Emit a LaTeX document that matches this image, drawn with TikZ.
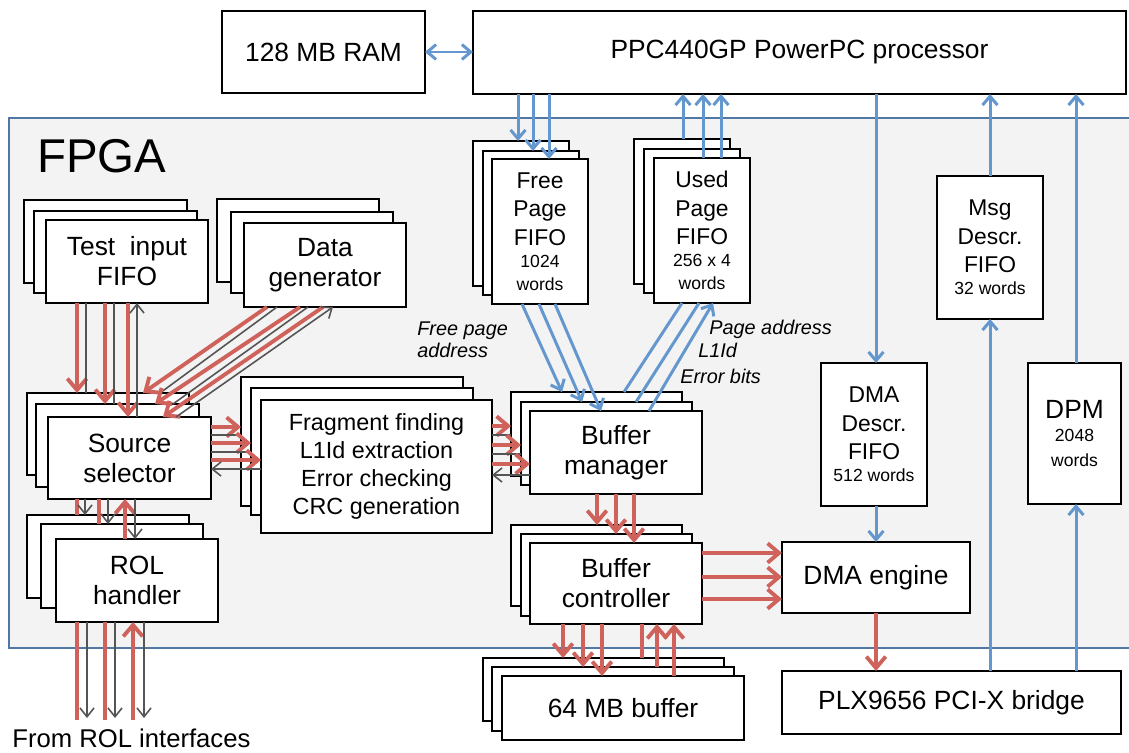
\documentclass[tikz,border=0pt]{standalone}
\usepackage{fontspec}
\setmainfont{Liberation Sans}
\usetikzlibrary{arrows.meta,calc}
\definecolor{redA}{RGB}{208,98,92}
\definecolor{blueA}{RGB}{100,151,206}
\definecolor{grayA}{RGB}{85,85,85}
\definecolor{fpgaFill}{RGB}{243,243,243}
\definecolor{fpgaLine}{RGB}{80,120,165}
\newcommand\fa{\fontsize{15}{17}\selectfont}
\newcommand\fb{\fontsize{13}{16.2}\selectfont}
\newcommand\fc{\fontsize{13.3}{16}\selectfont}
\newcommand\smalltxt[1]{{\fontsize{10}{12.7}\selectfont #1}}
\newcommand\bxn[7][\fa]{\node[bx,font=#1,minimum width={(#5-#3)*0.02cm},minimum height={(#6-#4)*0.02cm}] (#2) at ({(#3+#5)/2},{(#4+#6)/2}) {#7};}
\begin{document}
\begin{tikzpicture}[x=0.02cm,y=-0.02cm,
  bx/.style={draw=black,fill=white,line width=0.75pt,inner sep=0pt,outer sep=0pt,align=center},
  redarr/.style={draw=redA,line width=2.2pt,-{Straight Barb[length=6.5pt,width=11pt]}},
  redln/.style={draw=redA,line width=2.2pt},
  bluearr/.style={draw=blueA,line width=1.7pt,-{Straight Barb[length=5pt,width=8.5pt]}},
  bluedbl/.style={draw=blueA,line width=1.7pt,{Straight Barb[length=5pt,width=8.5pt]}-{Straight Barb[length=5pt,width=8.5pt]}},
  blueln/.style={draw=blueA,line width=1.7pt},
  grayarr/.style={draw=grayA,line width=0.9pt,-{Straight Barb[length=5pt,width=8pt]}},
  grayln/.style={draw=grayA,line width=0.9pt},
  lbl/.style={font=\fontsize{11.3}{12.5}\selectfont\itshape,anchor=base west,inner sep=0pt}]
\useasboundingbox (0,0) rectangle (1129,753);
\fill[white] (0,0) rectangle (1129,753);
\fill[fpgaFill,draw=fpgaLine,line width=0.75pt] (9,118) rectangle (1140,648);
\node[font=\fontsize{27}{30}\selectfont,anchor=base west,inner sep=0pt] (fpgalbl) at (37,173) {FPGA};

% ---- boxes ----
\bxn{tib}{24}{200}{187}{283}{}
\bxn{tim}{34}{211}{197}{293}{}
\bxn{tif}{46}{220}{208}{303}{Test~~input\\FIFO}
\bxn{dgb}{217}{199}{379}{282}{}
\bxn{dgm}{231}{212}{393}{293}{}
\bxn{dgf}{244}{223}{406}{307}{Data\\generator}
\bxn{ssb}{27}{393}{189}{475}{}
\bxn{ssm}{36}{404}{199}{487}{}
\bxn{ssf}{48}{417}{211}{499}{Source\\selector}
\bxn{frb}{241}{377}{463}{506}{}
\bxn{frm}{251}{388}{473}{515}{}
\bxn[\fc]{frf}{261}{400}{492}{533}{Fragment finding\\L1Id extraction\\Error checking\\CRC generation}
\bxn{rolb}{27}{515}{189}{598}{}
\bxn{rolm}{41}{524}{203}{608}{}
\bxn{rolf}{56}{539}{218}{622}{ROL\\handler}
\bxn{fpb}{473}{141}{569}{286}{}
\bxn{fpm}{483}{151}{579}{295}{}
\bxn[\fb]{fpf}{492}{159}{588}{304}{Free\\Page\\FIFO\\[-3.5pt]\smalltxt{1024}\\[-3.2pt]\smalltxt{words}}
\bxn{upb}{634}{139}{730}{284}{}
\bxn{upm}{644}{149}{740}{293}{}
\bxn[\fb]{upf}{654}{158}{750}{303}{Used\\Page\\FIFO\\[-3.5pt]\smalltxt{256 x 4}\\[-3.2pt]\smalltxt{words}}
\bxn{bmb}{511}{392}{682}{476}{}
\bxn{bmm}{521}{402}{692}{485}{}
\bxn{bmf}{530}{411}{702}{494}{Buffer\\manager}
\bxn{bcb}{511}{525}{682}{606}{}
\bxn{bcm}{521}{534}{692}{616}{}
\bxn{bcf}{530}{543}{702}{624}{Buffer\\controller}
\bxn{mbb}{483}{658}{724}{721}{}
\bxn{mbm}{492}{667}{734}{731}{}
\bxn{mbf}{502}{676}{744}{740}{64 MB buffer}
\bxn{ram}{222}{11}{425}{93}{128 MB RAM}
\bxn{ppc}{473}{11}{1126}{94}{PPC440GP PowerPC processor}
\bxn[\fb]{msg}{937}{176}{1043}{319}{Msg\\Descr.\\FIFO\\[-3.5pt]\smalltxt{32 words}}
\bxn[\fb]{dd}{821}{363}{927}{506}{DMA\\Descr.\\FIFO\\[-3.5pt]\smalltxt{512 words}}
\bxn{dpm}{1028}{363}{1121}{504}{DPM\\[-4pt]\smalltxt{2048}\\[-3.2pt]\smalltxt{words}}
\bxn{dma}{782}{542}{970}{613}{DMA engine}
\bxn{plx}{782}{671}{1121}{734}{PLX9656 PCI-X bridge}

% ---- labels ----
\node[lbl] (l1) at (417,335) {Free page};
\node[lbl] (l2) at (417,357) {address};
\node[lbl] (l3) at (709,334) {Page address};
\node[lbl] (l4) at (698,357) {L1Id};
\node[lbl] (l5) at (680,383) {Error bits};
\node[font=\fontsize{14.6}{16}\selectfont,anchor=base west,inner sep=0pt] (rolif) at (12,747) {From ROL interfaces};
\coordinate (in1) at (77,720);
\coordinate (in2) at (105,720);
\coordinate (in3) at (133,720);
\coordinate (out1) at (87,718);
\coordinate (out2) at (115,718);
\coordinate (out3) at (144,718);

% ---- blue connectors ----
\draw[bluedbl] (ram.east) -- (ram.east -| ppc.west);
\draw[bluearr] (518,0 |- ppc.south) -- (518,0 |- fpb.north);
\draw[bluearr] (533,0 |- ppc.south) -- (533,0 |- fpm.north);
\draw[bluearr] (549,0 |- ppc.south) -- (549,0 |- fpf.north);
\draw[bluearr] (683,0 |- upb.north) -- (683,0 |- ppc.south);
\draw[bluearr] (703,0 |- upf.north) -- (703,0 |- ppc.south);
\draw[bluearr] (721,0 |- upf.north) -- (721,0 |- ppc.south);
\draw[bluearr] (522,0 |- fpf.south) -- (562,0 |- bmb.north);
\draw[bluearr] (539,0 |- fpf.south) -- (582,0 |- bmm.north);
\draw[bluearr] (555,0 |- fpf.south) -- (601,0 |- bmf.north);
\draw[blueln] (624,0 |- bmb.north) -- (682,0 |- upf.south);
\draw[blueln] (636,0 |- bmm.north) -- (699,0 |- upf.south);
\draw[bluearr] (649,0 |- bmf.north) -- (713,0 |- upf.south);
\draw[bluearr] (876,0 |- ppc.south) -- (876,0 |- dd.north);
\draw[bluearr] (876,0 |- dd.south) -- (876,0 |- dma.north);
\draw[bluearr] (msg.north) -- (msg.north |- ppc.south);
\draw[bluearr] (msg.south |- plx.north) -- (msg.south);
\draw[bluearr] (1076,0 |- dpm.north) -- (1076,0 |- ppc.south);
\draw[bluearr] (1076,0 |- plx.north) -- (1076,0 |- dpm.south);

% ---- test input FIFO <-> source selector ----
\draw[redarr] (77,0 |- tif.south) -- (77,0 |- ssb.north);
\draw[grayln] (86,0 |- tif.south) -- (86,0 |- ssb.north);
\draw[redarr] (105,0 |- tif.south) -- (105,0 |- ssm.north);
\draw[grayln] (114,0 |- tif.south) -- (114,0 |- ssm.north);
\draw[redarr] (128,0 |- tif.south) -- (128,0 |- ssf.north);
\draw[grayarr] (137,0 |- ssf.north) -- (137,0 |- tif.south);

% ---- data generator <-> source selector ----
\draw[redarr] (267,0 |- dgf.south) -- (143,0 |- ssb.north);
\draw[grayln] (277,0 |- dgf.south) -- (160,0 |- ssb.north);
\draw[redarr] (300,0 |- dgf.south) -- (155,0 |- ssm.north);
\draw[grayln] (308,0 |- dgf.south) -- (173,0 |- ssm.north);
\draw[redarr] (323,0 |- dgf.south) -- (163,0 |- ssf.north);
\draw[grayarr] (176,0 |- ssf.north) -- (333,0 |- dgf.south);

% ---- source selector <-> fragment ----
\draw[redarr] (ssf.east |- 0,427) -- (frb.west |- 0,427);
\draw[grayln] (ssf.east |- 0,435) -- (frb.west |- 0,435);
\draw[redarr] (ssf.east |- 0,443) -- (frm.west |- 0,443);
\draw[grayln] (ssf.east |- 0,452) -- (frm.west |- 0,452);
\draw[redarr] (ssf.east |- 0,460) -- (frf.west |- 0,460);
\draw[grayarr] (frf.west |- 0,469) -- (ssf.east |- 0,469);

% ---- fragment <-> buffer manager ----
\draw[redarr] (frf.east |- 0,426) -- (bmb.west |- 0,426);
\draw[grayln] (frf.east |- 0,435) -- (bmb.west |- 0,435);
\draw[redarr] (frf.east |- 0,445) -- (bmm.west |- 0,445);
\draw[grayln] (frf.east |- 0,454) -- (bmm.west |- 0,454);
\draw[redarr] (frf.east |- 0,464) -- (bmf.west |- 0,464);
\draw[grayarr] (bmf.west |- 0,475) -- (frf.east |- 0,475);

% ---- source selector <-> ROL handler ----
\draw[redln] (77,0 |- ssf.south) -- (77,0 |- rolb.north);
\draw[grayarr] (85,0 |- ssf.south) -- (85,0 |- rolb.north);
\draw[redln] (99,0 |- ssf.south) -- (99,0 |- rolm.north);
\draw[grayarr] (108,0 |- ssf.south) -- (108,0 |- rolm.north);
\draw[redarr] (125,0 |- rolf.north) -- (125,0 |- ssf.south);
\draw[grayarr] (135,0 |- ssf.south) -- (135,0 |- rolf.north);

% ---- ROL interfaces ----
\draw[redln] (in1) -- (in1 |- rolf.south);
\draw[redln] (in2) -- (in2 |- rolf.south);
\draw[redarr] (in3) -- (in3 |- rolf.south);
\draw[grayarr] (out1 |- rolf.south) -- (out1);
\draw[grayarr] (out2 |- rolf.south) -- (out2);
\draw[grayarr] (out3 |- rolf.south) -- (out3);

% ---- buffer manager -> buffer controller ----
\draw[redarr] (597,0 |- bmf.south) -- (597,0 |- bcb.north);
\draw[redarr] (616,0 |- bmf.south) -- (616,0 |- bcm.north);
\draw[redarr] (634,0 |- bmf.south) -- (634,0 |- bcf.north);

% ---- buffer controller -> DMA engine ----
\draw[redarr] (bcf.east |- 0,553) -- (dma.west |- 0,553);
\draw[redarr] (bcf.east |- 0,577) -- (dma.west |- 0,577);
\draw[redarr] (bcf.east |- 0,599) -- (dma.west |- 0,599);

% ---- buffer controller <-> 64 MB buffer ----
\draw[redarr] (563,0 |- bcf.south) -- (563,0 |- mbb.north);
\draw[redarr] (583,0 |- bcf.south) -- (583,0 |- mbm.north);
\draw[redarr] (602,0 |- bcf.south) -- (602,0 |- mbf.north);
\draw[redln] (642,0 |- mbb.north) -- (642,0 |- bcf.south);
\draw[redarr] (657,0 |- mbm.north) -- (657,0 |- bcf.south);
\draw[redarr] (674,0 |- mbf.north) -- (674,0 |- bcf.south);

% ---- DMA engine -> PLX ----
\draw[redarr] (dma.south) -- (dma.south |- plx.north);
\end{tikzpicture}
\end{document}
